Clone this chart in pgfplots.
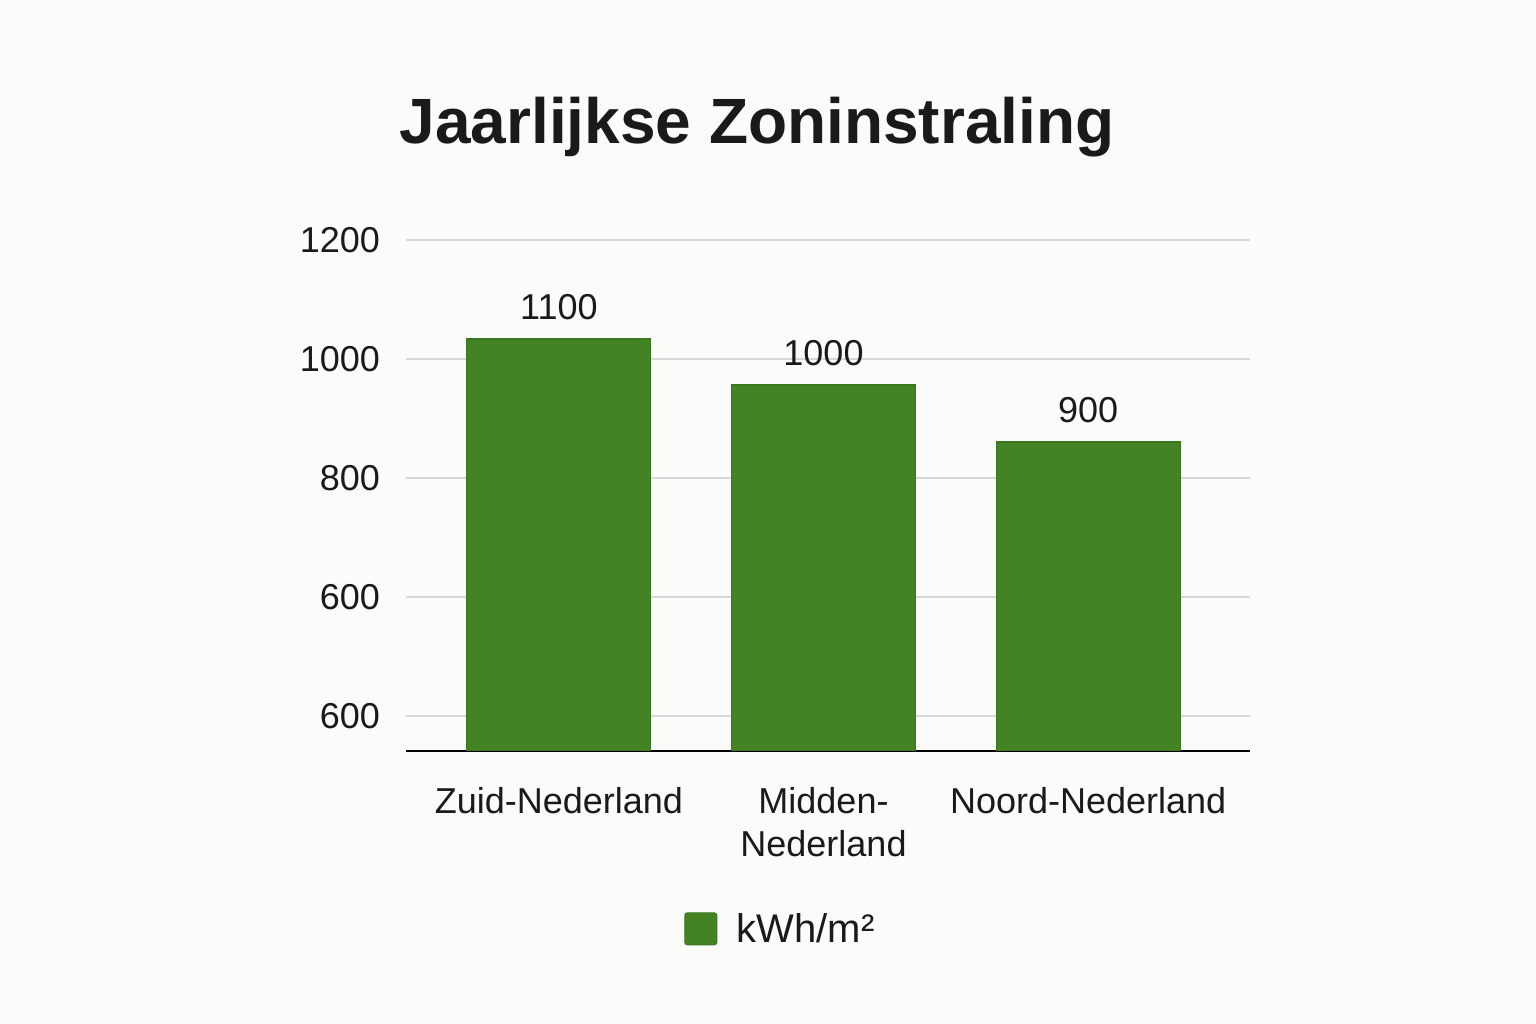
\documentclass[border=0pt]{standalone}
\usepackage{pgfplots}
\pgfplotsset{compat=1.18}
\usepackage{pgfplotstable}
\usepackage{fontspec}
\setmainfont{Liberation Sans}
\definecolor{bg}{HTML}{FBFBF9}
\definecolor{barg}{HTML}{438323}
\definecolor{bard}{HTML}{3A7720}
\definecolor{gridc}{HTML}{D6D6D6}
\definecolor{txt}{HTML}{1A1A1A}
\pgfplotstableread{
x y lab
0 1033.6 1100
1 956.3 1000
2 860.5 900
}\datatable
\begin{document}
\begin{tikzpicture}
\fill[bg] (0,0) rectangle (1152pt,768pt);
\begin{axis}[
  at={(304.5pt,204.75pt)}, anchor=south west,
  scale only axis, width=633pt, height=383.25pt,
  xmin=-0.578, xmax=2.612,
  ymin=341.2, ymax=1200,
  axis x line*=bottom, axis y line*=left,
  x axis line style={black, line width=1.5pt},
  y axis line style={draw=none},
  ytick={400,600,800,1000,1200},
  yticklabels={600,600,800,1000,1200},
  xtick={0,1,2},
  xticklabels={Zuid-Nederland,{Midden-\\Nederland},Noord-Nederland},
  major tick length=0pt,
  ymajorgrids, grid style={gridc, line width=0.9pt},
  tick label style={font=\fontsize{27}{32}\selectfont, text=txt},
  y tick label style={anchor=east, xshift=-16pt},
  x tick label style={align=center, anchor=north, yshift=-24pt},
  /pgf/number format/assume math mode=true,
  /pgf/number format/1000 sep={},
  title={\bfseries Jaarlijkse Zoninstraling},
  title style={at={(axis description cs:0.416,1.206)}, anchor=center, font=\fontsize{48}{58}\selectfont, text=txt},
  ybar, bar width=138pt,
  point meta=explicit,
  nodes near coords,
  nodes near coords style={anchor=south, inner sep=0pt, yshift=14pt, font=\fontsize{27}{32}\selectfont, text=txt},
  legend style={at={(axis description cs:0.444,-0.348)}, anchor=center, draw=none, fill=none, font=\fontsize{30}{34}\selectfont, text=txt},
  legend image code/.code={\draw[#1, rounded corners=2pt] (0pt,-12pt) rectangle (24pt,12pt); \path[draw=none, fill=none] (24pt,0pt) -- (37pt,0pt);},
  legend cell align=left,
]
\addplot[fill=barg, draw=bard, line width=0.8pt] table[x=x, y=y, meta=lab] {\datatable};
\addlegendentry{kWh/m²}
\end{axis}
\end{tikzpicture}
\end{document}
